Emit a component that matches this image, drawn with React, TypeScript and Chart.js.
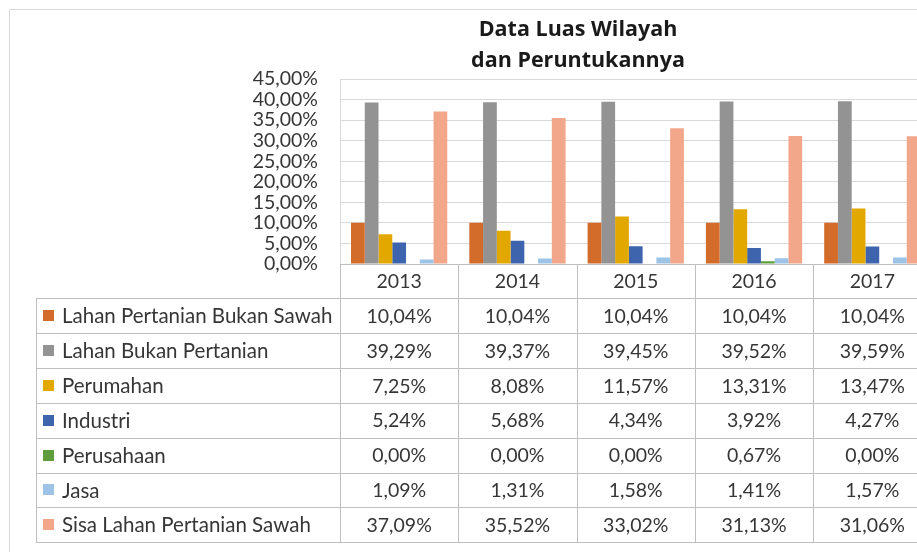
import React, { useEffect, useRef } from "react";
import { Chart, registerables } from "chart.js";

Chart.register(...registerables);

const categories = ["2013", "2014", "2015", "2016", "2017"];
const seriesNames = [
  "Lahan Pertanian Bukan Sawah",
  "Lahan Bukan Pertanian",
  "Perumahan",
  "Industri",
  "Perusahaan",
  "Jasa",
  "Sisa Lahan Pertanian Sawah",
];
const lahanPertanianBukanSawah = [10.04, 10.04, 10.04, 10.04, 10.04];
const lahanBukanPertanian = [39.29, 39.37, 39.45, 39.52, 39.59];
const perumahan = [7.25, 8.08, 11.57, 13.31, 13.47];
const industri = [5.24, 5.68, 4.34, 3.92, 4.27];
const perusahaan = [0, 0, 0, 0.67, 0];
const jasa = [1.09, 1.31, 1.58, 1.41, 1.57];
const sisaLahanPertanianSawah = [37.09, 35.52, 33.02, 31.13, 31.06];
const seriesColors = ["#D36B2A", "#939393", "#E3A800", "#3E64AE", "#5E9E3A", "#9DC3E6", "#F2A78A"];
const titleLines = ["Data Luas Wilayah", "dan Peruntukannya"];
const yMax = 45;
const yStep = 5;

const FONT = "Lato, 'Open Sans', sans-serif";
const TITLE_FONT = "'Open Sans', Lato, sans-serif";
const TEXT = "#363636";

const fmt = (v: number) => v.toFixed(2).replace(".", ",") + "%";

const tablePlugin = {
  id: "dataTable",
  afterDraw(chart: any) {
    const ctx = chart.ctx;
    const xs = chart.scales.x;
    const area = chart.chartArea;
    const W = chart.width;
    const H = chart.height;
    const n = categories.length;
    const colW = (area.right - area.left) / n;
    const tableLeft = 36;
    const tableTop = 298;
    const rowH = 34.9;
    const rows = chart.data.datasets.length;
    const tableBottom = tableTop + rows * rowH;
    ctx.save();
    // outer frame
    ctx.strokeStyle = "#D9D9D9";
    ctx.lineWidth = 1;
    ctx.beginPath();
    ctx.moveTo(9.5, H);
    ctx.lineTo(9.5, 9.5);
    ctx.lineTo(W, 9.5);
    ctx.stroke();
    // title
    ctx.fillStyle = "#1a1a1a";
    ctx.font = "bold 21.5px " + TITLE_FONT;
    ctx.textAlign = "center";
    ctx.textBaseline = "middle";
    ctx.fillText(titleLines[0], 578, 30);
    ctx.fillText(titleLines[1], 578, 61);
    // table lines
    ctx.strokeStyle = "#BFBFBF";
    ctx.beginPath();
    for (let r = 0; r <= rows; r++) {
      const y = Math.round(tableTop + r * rowH) + 0.5;
      ctx.moveTo(tableLeft, y);
      ctx.lineTo(W, y);
    }
    ctx.moveTo(tableLeft + 0.5, tableTop);
    ctx.lineTo(tableLeft + 0.5, tableBottom);
    for (let i = 0; i <= n; i++) {
      const x = Math.round(area.left + i * colW) + 0.5;
      ctx.moveTo(x, area.bottom);
      ctx.lineTo(x, Math.round(tableBottom));
    }
    ctx.stroke();
    // legend + values
    ctx.textBaseline = "middle";
    chart.data.datasets.forEach((ds: any, r: number) => {
      const cy = tableTop + r * rowH + rowH / 2;
      ctx.fillStyle = ds.backgroundColor;
      ctx.fillRect(43, Math.round(cy - 5.5), 11, 11);
      ctx.fillStyle = TEXT;
      ctx.textAlign = "left";
      ctx.font = "20.5px " + FONT;
      ctx.fillText(ds.label, 62, cy + 1);
      ctx.textAlign = "center";
      ctx.font = "19.5px " + FONT;
      ds.data.forEach((v: number, i: number) => {
        ctx.fillText(fmt(v), xs.getPixelForValue(i), cy + 1);
      });
    });
    ctx.restore();
  },
};

export default function App() {
  const ref = useRef<HTMLCanvasElement>(null);
  useEffect(() => {
    const values = [
      lahanPertanianBukanSawah,
      lahanBukanPertanian,
      perumahan,
      industri,
      perusahaan,
      jasa,
      sisaLahanPertanianSawah,
    ];
    const chart = new Chart(ref.current!, {
      type: "bar",
      data: {
        labels: categories,
        datasets: seriesNames.map((name, i) => ({
          label: name,
          data: values[i],
          backgroundColor: seriesColors[i],
          borderWidth: 0,
          categoryPercentage: 0.814,
          barPercentage: 1,
        })),
      },
      options: {
        responsive: false,
        animation: false,
        devicePixelRatio: 1,
        layout: { padding: { top: 79, left: 0, right: 8.5, bottom: 0 } },
        plugins: {
          legend: { display: false },
          title: { display: false },
          tooltip: { enabled: false },
        },
        scales: {
          x: {
            grid: { display: false, drawTicks: false },
            border: { display: true, color: "#BFBFBF" },
            ticks: {
              color: TEXT,
              font: { family: FONT, size: 19.5 },
              padding: 6,
              maxRotation: 0,
            },
            afterFit: (s: any) => {
              s.height = 288;
            },
          },
          y: {
            min: 0,
            max: yMax,
            grid: { color: "#D9D9D9", drawTicks: false },
            border: { display: true, color: "#D9D9D9" },
            ticks: {
              stepSize: yStep,
              autoSkip: false,
              color: TEXT,
              font: { family: FONT, size: 19.5, lineHeight: 1 },
              padding: 22,
              callback: (v: any) => fmt(Number(v)),
            },
            afterFit: (s: any) => {
              s.width = 340;
            },
          },
        },
      },
      plugins: [tablePlugin],
    });
    return () => chart.destroy();
  }, []);
  return (
    <div
      style={{
        position: "fixed",
        left: 0,
        top: 0,
        width: 917,
        height: 552,
        overflow: "hidden",
        background: "#fff",
      }}
    >
      <canvas ref={ref} width={940} height={552} style={{ width: 940, height: 552, display: "block" }} />
    </div>
  );
}
